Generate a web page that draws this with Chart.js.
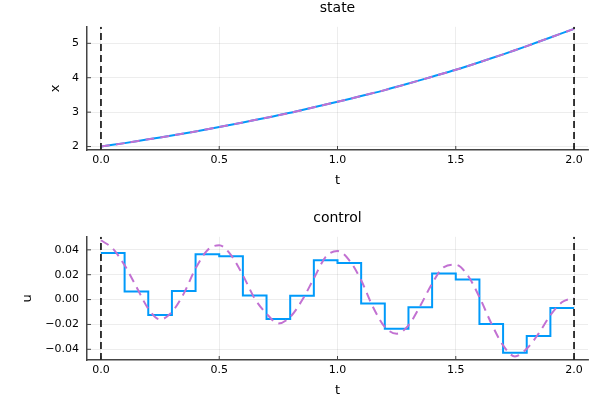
<!DOCTYPE html>
<html>
<head>
<meta charset="utf-8">
<script src="https://cdn.jsdelivr.net/npm/chart.js@4"></script>
<style>
  body { margin: 0; background: #fff; }
  .box { width: 600px; height: 210px; }
</style>
</head>
<body>
<div class="box"><canvas id="state" width="600" height="210"></canvas></div>
<div class="box"><canvas id="control" width="600" height="210"></canvas></div>
<script>
// time grids
const tState = [0, 0.1, 0.2, 0.3, 0.4, 0.5, 0.6, 0.7, 0.8, 0.9, 1.0, 1.1, 1.2, 1.3, 1.4, 1.5, 1.6, 1.7, 1.8, 1.9, 2.0];
const xState = [2.00, 2.10, 2.21, 2.32, 2.44, 2.57, 2.70, 2.84, 2.98, 3.14, 3.30, 3.47, 3.64, 3.83, 4.03, 4.23, 4.45, 4.68, 4.92, 5.17, 5.42];

const tCtrl = [0, 0.1, 0.2, 0.3, 0.4, 0.5, 0.6, 0.7, 0.8, 0.9, 1.0, 1.1, 1.2, 1.3, 1.4, 1.5, 1.6, 1.7, 1.8, 1.9, 2.0];
const uCtrl = [0.0375, 0.0064, -0.0124, 0.0069, 0.0365, 0.0349, 0.0032, -0.0156, 0.0030, 0.0316,
               0.0295, -0.0032, -0.0234, -0.0062, 0.0209, 0.0161, -0.0196, -0.0427, -0.0293, -0.0068, -0.0068];

const tRef = [0, 0.05, 0.1, 0.15, 0.2, 0.25, 0.3, 0.35, 0.4, 0.45, 0.5, 0.55, 0.6, 0.65, 0.7, 0.75, 0.8, 0.85, 0.9, 0.95,
              1.0, 1.05, 1.1, 1.15, 1.2, 1.25, 1.3, 1.35, 1.4, 1.45, 1.5, 1.55, 1.6, 1.65, 1.7, 1.75, 1.8, 1.85, 1.9, 1.95, 2.0];
const uRef = [0.0477, 0.041, 0.0276, 0.0102, -0.0073, -0.016, -0.010, 0.0048, 0.025, 0.0397,
              0.0437, 0.0357, 0.0196, 0.0008, -0.0113, -0.0193, -0.014, -0.0006, 0.017, 0.0343,
              0.0391, 0.0316, 0.0155, -0.006, -0.022, -0.0274, -0.0207, -0.005, 0.0129, 0.0262,
              0.028, 0.0196, 0.002, -0.019, -0.0368, -0.0457, -0.0395, -0.0274, -0.0126, -0.002, 0.0013];

const tBounds = [0, 2];
const xTicks = [0, 0.5, 1.0, 1.5, 2.0];
const stateTicks = [2, 3, 4, 5];
const ctrlTicks = [-0.04, -0.02, 0, 0.02, 0.04];

const blue = '#009AFA';
const purple = '#C271D2';

Chart.defaults.font.family = 'DejaVu Sans';
Chart.defaults.color = '#000';

const zip = (xs, ys) => xs.map((x, i) => ({x: x, y: ys[i]}));
const minus = s => s.replace('-', '\u2212');

// short tick marks pointing into the plot, like the original
const innerTicks = {
  id: 'innerTicks',
  beforeDatasetsDraw(chart) {
    const {ctx, chartArea: a, scales: {x, y}} = chart;
    ctx.save();
    ctx.strokeStyle = '#444';
    ctx.lineWidth = 1;
    ctx.beginPath();
    x.ticks.forEach(t => {
      const px = x.getPixelForValue(t.value);
      ctx.moveTo(px, a.bottom); ctx.lineTo(px, a.bottom - 4);
    });
    y.ticks.forEach(t => {
      const py = y.getPixelForValue(t.value);
      ctx.moveTo(a.left, py); ctx.lineTo(a.left + 4, py);
    });
    ctx.stroke();
    ctx.restore();
  }
};

function boundLines(yMin, yMax) {
  return tBounds.map(t => ({
    data: [{x: t, y: yMin}, {x: t, y: yMax}],
    borderColor: '#222',
    borderWidth: 1.8,
    borderDash: [7, 4],
    pointRadius: 0,
    order: 0
  }));
}

function makeChart(id, title, yLabel, labelPad, datasets, yMin, yMax, yTicks, yFmt) {
  return new Chart(document.getElementById(id), {
    type: 'line',
    data: { datasets: datasets.concat(boundLines(yMin, yMax)) },
    options: {
      responsive: false,
      animation: false,
      layout: { padding: { left: 0, right: 12, top: 0, bottom: 0 } },
      plugins: {
        legend: { display: false },
        tooltip: { enabled: false },
        title: {
          display: true, text: title, fullSize: false,
          font: { size: 14, weight: 'normal' },
          padding: { top: 0, bottom: 10 }
        }
      },
      scales: {
        x: {
          type: 'linear', min: -0.059, max: 2.059,
          afterBuildTicks: s => { s.ticks = xTicks.map(v => ({value: v})); },
          afterFit: s => { s.height = 60; },
          ticks: { padding: 4, font: { size: 11 }, maxRotation: 0, autoSkip: false,
                   callback: v => v.toFixed(1) },
          grid: { color: 'rgba(0,0,0,0.09)', lineWidth: 0.8, drawTicks: false },
          border: { color: '#444', width: 1.5 },
          title: { display: true, text: 't', font: { size: 13 }, padding: { top: 0, bottom: 22 } }
        },
        y: {
          min: yMin, max: yMax,
          afterBuildTicks: s => { s.ticks = yTicks.map(v => ({value: v})); },
          afterFit: s => { s.width = 87; },
          ticks: { padding: 8, font: { size: 11 }, autoSkip: false, callback: yFmt },
          grid: { color: 'rgba(0,0,0,0.09)', lineWidth: 0.8, drawTicks: false },
          border: { color: '#444', width: 1.5 },
          title: { display: true, text: yLabel, font: { size: 13 }, padding: { top: labelPad, bottom: 0 } }
        }
      }
    },
    plugins: [innerTicks]
  });
}

makeChart('state', 'state', 'x', 48, [
  { data: zip(tState, xState), borderColor: purple, borderWidth: 2, borderDash: [9, 6],
    pointRadius: 0, tension: 0.3, order: 1 },
  { data: zip(tState, xState), borderColor: blue, borderWidth: 2,
    pointRadius: 0, tension: 0.3, order: 2 }
], 1.9, 5.48, stateTicks, v => String(v));

makeChart('control', 'control', 'u', 20, [
  { data: zip(tRef, uRef), borderColor: purple, borderWidth: 2, borderDash: [9, 6],
    pointRadius: 0, cubicInterpolationMode: 'monotone', order: 1 },
  { data: zip(tCtrl, uCtrl), borderColor: blue, borderWidth: 2, stepped: true,
    pointRadius: 0, order: 2 }
], -0.0486, 0.0505, ctrlTicks, v => minus(v.toFixed(2)));
</script>
</body>
</html>
